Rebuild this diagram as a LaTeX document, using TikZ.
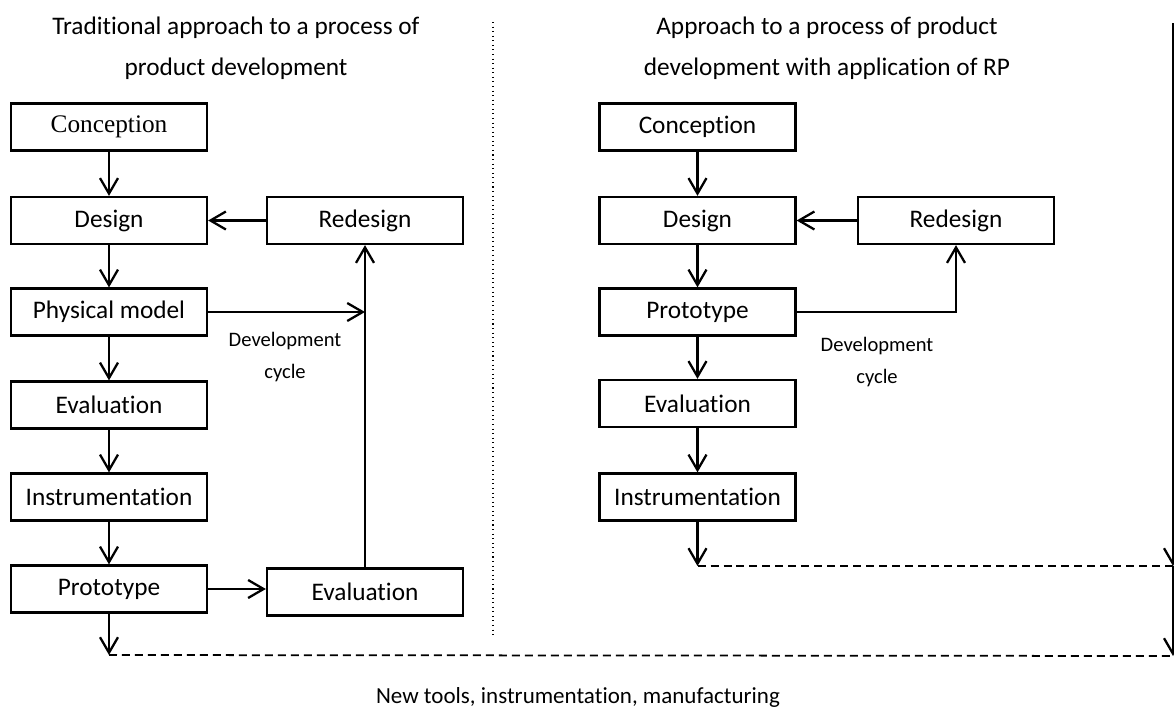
\documentclass[tikz,border=0pt]{standalone}
\usepackage{fontspec}
\setmainfont[Ligatures=NoCommon]{Carlito}
\newfontfamily\timesfont{Liberation Serif}
\usetikzlibrary{arrows.meta}
\tikzstyle{stage}=[draw, line width=1.3pt, minimum width=3.92cm, minimum height=0.94cm, inner sep=0, font=\fontsize{14.4}{17}\selectfont]
\tikzstyle{flow}=[line width=1.3pt, -{Straight Barb[length=0.31cm, width=0.36cm, line width=1.3pt]}]
\tikzstyle{heading}=[align=center, font=\fontsize{14.4}{23.3}\selectfont]
\tikzstyle{note}=[align=center, font=\fontsize{11.7}{18.7}\selectfont]
\tikzstyle{retool}=[line width=1pt, dash pattern=on 0.16cm off 0.1cm]

\begin{document}
\begin{tikzpicture}[x=0.02cm, y=-0.02cm]
      \useasboundingbox (0, 0) rectangle (1174, 707);

      \node[heading] (t_title) at (236, 48) {Traditional approach to a process of\\product development};
      \node[heading] (r_title) at (827, 48) {Approach to a process of product\\development with application of RP};

      \node[stage, font=\fontsize{14.4}{17}\timesfont] (t_conc) at (109, 127) {Conception};
      \node[stage] (t_des) at (109, 220.5) {Design};
      \node[stage] (t_phys) at (109, 312) {Physical model};
      \node[stage] (t_eval) at (109, 405) {Evaluation};
      \node[stage] (t_instr) at (109, 497) {Instrumentation};
      \node[stage] (t_proto) at (109, 589) {Prototype};
      \node[stage] (t_redes) at (365, 220.5) {Redesign};
      \node[stage] (t_check) at (365, 592) {Evaluation};
      \node[note] (t_cycle) at (285, 357) {Development\\cycle};
      \coordinate (t_join) at (t_check.north |- t_phys);
      \coordinate (t_out) at (109, 655);

      \node[stage] (r_conc) at (697.5, 127) {Conception};
      \node[stage] (r_des) at (697.5, 220.5) {Design};
      \node[stage] (r_redes) at (956, 220.5) {Redesign};
      \node[stage] (r_proto) at (697.5, 312) {Prototype};
      \node[stage] (r_eval) at (697.5, 403.5) {Evaluation};
      \node[stage] (r_instr) at (697.5, 497) {Instrumentation};
      \node[note] (r_cycle) at (877, 362) {Development\\cycle};
      \coordinate (r_out) at (697.5, 566);

      \coordinate (edge_top) at (1173, 23);
      \coordinate (edge_mid) at (1173, 566);
      \coordinate (edge_bot) at (1173, 656);
      \node[note, font=\fontsize{13.1}{16}\selectfont] (tools) at (578, 697) {New tools, instrumentation, manufacturing};

      \draw[line width=0.6pt, dotted] (493, 22) -- (493, 636);

      \draw[flow] (t_conc) -- (t_des);
      \draw[flow] (t_des) -- (t_phys);
      \draw[flow] (t_phys) -- (t_eval);
      \draw[flow] (t_eval) -- (t_instr);
      \draw[flow] (t_instr) -- (t_proto);
      \draw[flow] (t_proto) -- (t_out);
      \draw[flow] (t_proto.east) -- (t_proto.east -| t_check.west);
      \draw[flow] (t_check) -- (t_redes);
      \draw[flow] (t_redes) -- (t_des);
      \draw[flow] (t_phys) -- (t_join);

      \draw[flow] (r_conc) -- (r_des);
      \draw[flow] (r_des) -- (r_proto);
      \draw[flow] (r_proto) -- (r_eval);
      \draw[flow] (r_eval) -- (r_instr);
      \draw[flow] (r_instr) -- (r_out);
      \draw[flow] (r_redes) -- (r_des);
      \draw[flow] (r_proto.east) -| (r_redes.south);

      \draw[retool] (t_out) -- (edge_bot);
      \draw[retool] (r_out) -- (edge_mid);
      \draw[flow] (edge_top) -- (edge_mid);
      \draw[flow] (edge_mid) -- (edge_bot);
    \end{tikzpicture}
\end{document}
